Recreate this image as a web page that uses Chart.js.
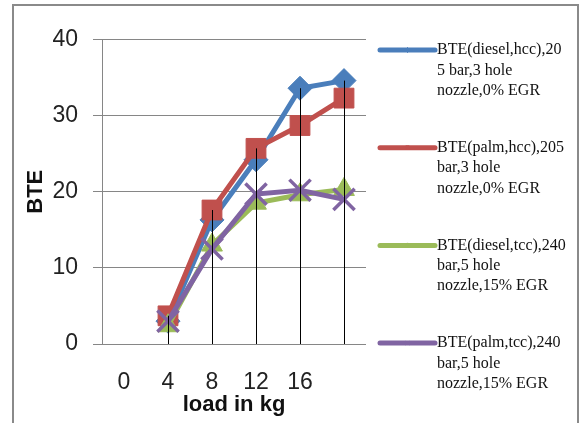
<!DOCTYPE html>
<html>
<head>
<meta charset="utf-8">
<script src="https://cdn.jsdelivr.net/npm/chart.js@4"></script>
<style>
  html, body { margin: 0; padding: 0; background: #fff; }
  #wrap { width: 584px; height: 423px; position: relative; }
</style>
</head>
<body>
<div id="wrap"><canvas id="c" width="584" height="423"></canvas></div>
<script>
// Load categories (last slot is unlabeled)
const loads = ['0', '4', '8', '12', '16', ''];

// Brake thermal efficiency per load
const bteDieselHcc = [null, 3.0, 16.3, 24.2, 33.6, 34.6];
const btePalmHcc   = [null, 3.7, 17.6, 25.7, 28.7, 32.3];
const bteDieselTcc = [null, 2.4, 13.0, 18.5, 19.6, 20.3];
const btePalmTcc   = [null, 3.0, 12.5, 19.7, 20.2, 19.0];

// Legend text, one entry per series, wrapped as in the chart
const nameDieselHcc = ['BTE(diesel,hcc),20', '5 bar,3 hole', 'nozzle,0% EGR'];
const namePalmHcc   = ['BTE(palm,hcc),205', 'bar,3 hole', 'nozzle,0% EGR'];
const nameDieselTcc = ['BTE(diesel,tcc),240', 'bar,5 hole', 'nozzle,15% EGR'];
const namePalmTcc   = ['BTE(palm,tcc),240', 'bar,5 hole', 'nozzle,15% EGR'];

const yTicks = [0, 10, 20, 30, 40];

const BLUE = '#4A7EBB', RED = '#C0504D', GREEN = '#9BBB59', PURPLE = '#8064A2';

function series(label, data, color, style, radius, order, bw) {
  return {
    label: label.join(' '),
    legendLines: label,
    data: data,
    borderColor: color,
    backgroundColor: color,
    borderWidth: 5,
    pointStyle: style,
    pointRadius: radius,
    pointHoverRadius: radius,
    pointBorderWidth: bw,
    pointBackgroundColor: color,
    pointBorderColor: color,
    tension: 0,
    spanGaps: false,
    order: order
  };
}

// Outer frame and white background
const framePlugin = {
  id: 'frame',
  beforeDraw(chart) {
    const ctx = chart.ctx;
    ctx.save();
    ctx.fillStyle = '#fff';
    ctx.fillRect(0, 0, chart.width, chart.height);
    ctx.strokeStyle = '#8a8a8a';
    ctx.lineWidth = 2;
    ctx.strokeRect(13, 5, 565, 440);
    ctx.restore();
  }
};

// Drop lines from the highest point of each category down to the axis
const dropLinePlugin = {
  id: 'dropLines',
  afterDatasetsDraw(chart) {
    const x = chart.scales.x, y = chart.scales.y, ctx = chart.ctx;
    ctx.save();
    ctx.strokeStyle = '#000';
    ctx.lineWidth = 1;
    loads.forEach((_, i) => {
      const vals = chart.data.datasets.map(d => d.data[i]).filter(v => v !== null && v !== undefined);
      if (!vals.length) return;
      const top = Math.max(...vals);
      const px = Math.round(x.getPixelForValue(i)) + 0.5;
      ctx.beginPath();
      ctx.moveTo(px, y.getPixelForValue(top));
      ctx.lineTo(px, y.getPixelForValue(0));
      ctx.stroke();
    });
    ctx.restore();
  }
};

// Legend on the right with wrapped series names
const sideLegendPlugin = {
  id: 'sideLegend',
  afterDraw(chart) {
    const ctx = chart.ctx;
    const ds = chart.data.datasets;
    const startY = 50, stepY = 97.7, x0 = 380, x1 = 435, tx = 437, lh = 20.3;
    ctx.save();
    ds.forEach((d, i) => {
      const cy = startY + i * stepY;
      ctx.strokeStyle = d.borderColor;
      ctx.fillStyle = d.borderColor;
      ctx.lineWidth = 5;
      ctx.lineCap = 'round';
      ctx.beginPath();
      ctx.moveTo(x0, cy);
      ctx.lineTo(x1, cy);
      ctx.stroke();
      ctx.lineCap = 'butt';
      ctx.lineWidth = 1;
      Chart.helpers.drawPoint(ctx, {
        pointStyle: d.pointStyle, radius: 2.5, borderWidth: 1, rotation: 0
      }, (x0 + x1) / 2, cy);
      ctx.fillStyle = '#111';
      ctx.font = '16px "Liberation Serif", "Times New Roman", serif';
      ctx.textBaseline = 'middle';
      ctx.textAlign = 'left';
      d.legendLines.forEach((t, k) => ctx.fillText(t, tx, cy + k * lh));
    });
    ctx.restore();
  }
};

new Chart(document.getElementById('c'), {
  type: 'line',
  data: {
    labels: loads,
    datasets: [
      series(nameDieselHcc, bteDieselHcc, BLUE, 'rectRot', 12, 3, 1),
      series(namePalmHcc, btePalmHcc, RED, 'rect', 14, 2, 1),
      series(nameDieselTcc, bteDieselTcc, GREEN, 'triangle', 12, 1, 1),
      series(namePalmTcc, btePalmTcc, PURPLE, 'crossRot', 15, 0, 3.5)
    ]
  },
  options: {
    responsive: false,
    animation: false,
    events: [],
    layout: { padding: { top: 39.5, right: 218, left: 0, bottom: 0 } },
    plugins: {
      legend: { display: false },
      tooltip: { enabled: false }
    },
    scales: {
      x: {
        type: 'category',
        offset: true,
        grid: { display: false, drawTicks: false },
        border: { display: false },
        ticks: {
          padding: 25,
          color: '#222',
          font: { family: '"Liberation Sans", Arial, sans-serif', size: 23 },
          maxRotation: 0,
          autoSkip: false
        },
        title: {
          display: true,
          text: 'load in kg',
          color: '#111',
          font: { family: '"Liberation Sans", Arial, sans-serif', size: 22, weight: 'bold' },
          padding: { top: 0, bottom: 5 }
        },
        afterFit(scale) { scale.height = 79; }
      },
      y: {
        min: 0,
        max: 40,
        afterBuildTicks(scale) { scale.ticks = yTicks.map(v => ({ value: v })); },
        grid: { color: '#868686', lineWidth: 1, tickLength: 9, drawTicks: true },
        border: { display: true, color: '#868686', width: 1 },
        ticks: {
          padding: 15,
          color: '#222',
          font: { family: '"Liberation Sans", Arial, sans-serif', size: 23 }
        },
        title: {
          display: true,
          text: 'BTE',
          color: '#111',
          font: { family: '"Liberation Sans", Arial, sans-serif', size: 22, weight: 'bold' },
          padding: { top: 23, bottom: 0 }
        },
        afterFit(scale) { scale.width = 102; }
      }
    }
  },
  plugins: [framePlugin, dropLinePlugin, sideLegendPlugin]
});
</script>
</body>
</html>
